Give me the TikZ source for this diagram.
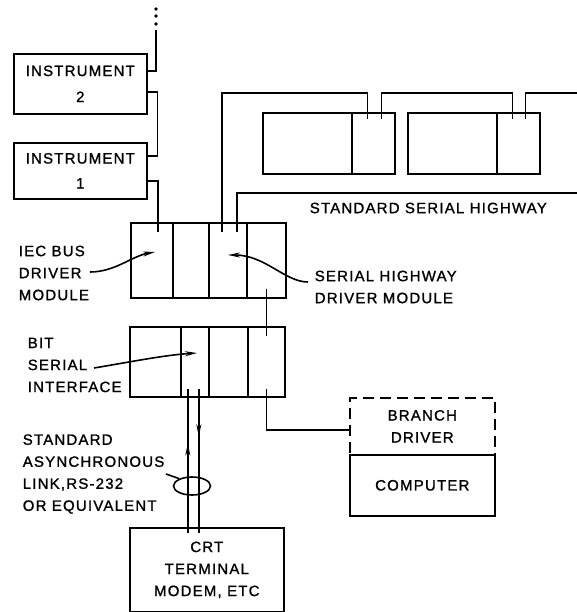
\documentclass[tikz,border=0pt]{standalone}
\usepackage{fontspec}
\setmainfont{Liberation Sans}[LetterSpace=8, FakeBold=1.2]
\usetikzlibrary{shapes.geometric,arrows.meta,decorations.markings}
\begin{document}
\begin{tikzpicture}[x=1pt, y=-1pt, line width=1.6pt,
  font=\fontsize{15}{22}\selectfont,
  box/.style={draw, rectangle, inner sep=0pt, align=center, anchor=north west},
  lbl/.style={inner sep=0pt, align=left, anchor=west},
  lead/.style={-{Stealth[length=12pt,width=5pt]}},
  midarrow/.style={postaction={decorate}, decoration={markings,
    mark=at position #1 with {\arrow{Stealth[length=12pt,width=5pt]}}}}]
\useasboundingbox (0,0) rectangle (577,612);

% instruments on the IEC bus
\node[box, minimum width=133pt, minimum height=60pt] (inst2) at (13,53) {INSTRUMENT\\[4pt]2};
\node[box, minimum width=133pt, minimum height=56pt] (inst1) at (13,142) {INSTRUMENT\\[3pt]1};

% the two crates
\foreach \n/\a/\b in {a/130/172,b/172/208,c/208/246,d/246/285}
  \node[box, minimum width={(\b-\a)*1pt}, minimum height=75pt] (c1\n) at (\a,222) {};
\foreach \n/\a/\b in {a/129/180,b/180/208,c/208/247,d/247/284}
  \node[box, minimum width={(\b-\a)*1pt}, minimum height=70pt] (c2\n) at (\a,326) {};

% remote crates on the serial highway
\foreach \n/\a/\b/\c in {ra/262/351/394,rb/407/496/539} {
  \node[box, minimum width={(\b-\a)*1pt}, minimum height=61pt] (\n1) at (\a,112) {};
  \node[box, minimum width={(\c-\b)*1pt}, minimum height=61pt] (\n) at (\b,112) {};
}

\node[box, dashed, dash pattern=on 11pt off 6pt, minimum width=145pt, minimum height=57pt] (bd) at (349,397) {BRANCH\\DRIVER};
\node[box, minimum width=145pt, minimum height=61pt] (comp) at (349,454) {COMPUTER};
\node[box, minimum width=154pt, minimum height=84pt] (crt) at (129,527) {CRT\\TERMINAL\\MODEM, ETC};

% labels
\node[lbl] (iec) at (18,273) {IEC BUS\\DRIVER\\MODULE};
\node[lbl] (bsi) at (27,365) {BIT\\SERIAL\\INTERFACE};
\node[lbl] (async) at (22,474) {STANDARD\\ASYNCHRONOUS\\LINK,RS-232\\OR EQUIVALENT};
\node[lbl] (shd) at (314,287) {SERIAL HIGHWAY\\DRIVER MODULE};
\node[lbl] (ssh) at (309,208) {STANDARD SERIAL HIGHWAY};
\node[draw, ellipse, inner sep=0pt, minimum width=37pt, minimum height=18pt] (ring) at (192,486) {};

\coordinate (dots) at (156,30);
\coordinate (hw) at (577,93);
\coordinate (hwout) at (577,193);
\coordinate (iecend) at (90,272);
\coordinate (iectip) at (155,252);
\coordinate (bsiend) at (94,368);
\coordinate (bsitip) at (197,353);
\coordinate (shdend) at (308,282);
\coordinate (shdtip) at (228,255);
\coordinate (asyend) at (166,474);

\foreach \y in {9,16,24}
  \fill (156,\y) circle (1.8pt);

% IEC bus
\draw (dots) |- ([yshift=13pt]inst2.east);
\draw ([yshift=-8pt]inst2.east) -- ++(10,0) |- ([yshift=15pt]inst1.east);
\draw ([yshift=-10pt]inst1.east) -| ([xshift=6pt,yshift=-10pt]c1a.north);

% serial highway loop
\draw ([xshift=-6pt,yshift=-10pt]c1c.north) |- ([xshift=-6pt,yshift=19pt]ra.north) -- ++(0,26);
\draw ([xshift=8pt,yshift=-7pt]ra.north) |- ([xshift=-6pt,yshift=19pt]rb.north) -- ++(0,26);
\draw ([xshift=7pt,yshift=-7pt]rb.north) |- (hw);
\draw ([xshift=9pt,yshift=-10pt]c1c.north) |- (hwout);

% branch highway
\draw ([yshift=10pt]c1d.south) -- ([yshift=-10pt]c2d.north);
\draw ([yshift=9pt]c2d.south) |- ([yshift=-3.5pt]bd.west);

% terminal link
\draw[midarrow=0.62] ([xshift=-19pt,yshift=-6pt]crt.north) -- ([xshift=-7pt,yshift=9pt]c2b.south);
\draw[midarrow=0.33] ([xshift=4pt,yshift=9pt]c2b.south) -- ([xshift=-8pt,yshift=-6pt]crt.north);
\draw (asyend) -- (ring.150);

% pointers
\draw[lead] (iecend) .. controls (115,272) and (132,256) .. (iectip);
\draw[lead] (bsiend) .. controls (130,362) and (165,355) .. (bsitip);
\draw[lead] (shdend) .. controls (285,282) and (265,255) .. (shdtip);
\end{tikzpicture}
\end{document}
